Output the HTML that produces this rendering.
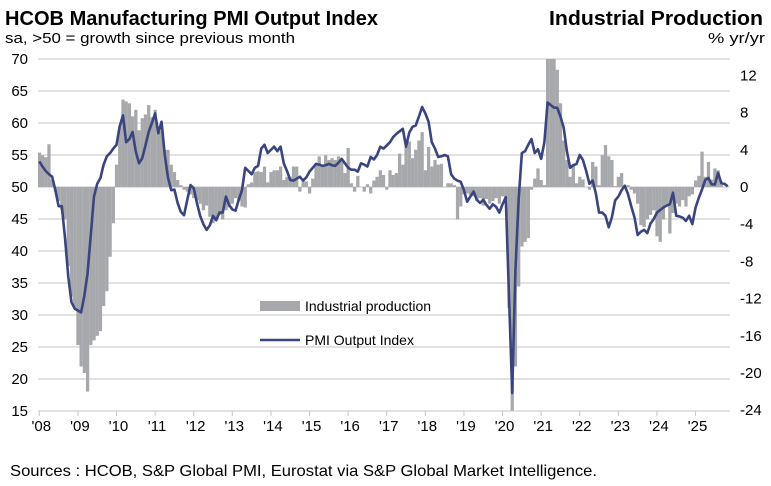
<!DOCTYPE html>
<html><head><meta charset="utf-8"><style>
body{margin:0;background:#fff;}
svg text{font-family:"Liberation Sans",Arial,sans-serif;}
</style></head><body>
<svg id="chart" width="771" height="481" viewBox="0 0 771 481" xmlns="http://www.w3.org/2000/svg">
<text x="5" y="25" font-size="20" font-weight="bold" fill="#000" textLength="373" lengthAdjust="spacingAndGlyphs">HCOB Manufacturing PMI Output Index</text>
<text x="5" y="43" font-size="15" fill="#000" textLength="290" lengthAdjust="spacingAndGlyphs">sa, &gt;50 = growth since previous month</text>
<text x="549" y="25" font-size="20" font-weight="bold" fill="#000" textLength="214" lengthAdjust="spacingAndGlyphs">Industrial Production</text>
<text x="708" y="43" font-size="15" fill="#000" textLength="57" lengthAdjust="spacingAndGlyphs">% yr/yr</text>
<text x="10" y="476" font-size="16" fill="#000" textLength="587" lengthAdjust="spacingAndGlyphs">Sources : HCOB, S&amp;P Global PMI, Eurostat via S&amp;P Global Market Intelligence.</text>
<defs><clipPath id="pc"><rect x="38" y="59" width="693" height="352"/></clipPath></defs>
<g id="grid"></g>
<g id="bars" clip-path="url(#pc)"></g>
<g id="axes"></g>
<g id="line"></g>
<g>
<rect x="260" y="301" width="40" height="10" fill="#a6a8ab"/>
<text x="305" y="311" font-size="14" fill="#000">Industrial production</text>
<line x1="260" y1="340" x2="300" y2="340" stroke="#3a4580" stroke-width="2.5"/>
<text x="305" y="345" font-size="14" fill="#000">PMI Output Index</text>
</g>
</svg>
<script>
const pmiValues=[
54,53.2,52.5,52,51.6,49.5,47,47,42,36,32,31,
30.7,30.4,33,36.5,42.5,48.5,50.5,51.4,53.5,54.8,55.3,56,
56.6,59.5,61.2,57,57.5,58.6,55.5,53.7,54.5,56.5,58.6,60,
61.5,58.4,60.2,55,51.5,49.5,49.6,47.5,46.1,45.6,48,50.3,
49.8,47.5,45.5,44.2,43.3,44,45.5,44.8,46,46,48.5,47.2,
46.5,46.3,48,49.5,53,52.5,52,53,53.3,56,56.6,55.3,
55.8,56.3,55.6,56.3,53.7,52.5,51.1,51,51.3,51.6,51,51.5,
52.4,53,53.6,53.5,53.3,53.4,53.6,53.4,53.3,53.8,54.4,53.7,
53,52.7,52.7,52.4,53.7,53.5,53.2,54.7,54.3,55,56.3,56,
56.5,57,57.8,58.3,58.7,59.1,56.3,58.5,59.4,59.6,61,62.5,
61.5,60.2,57,56,54.7,54.8,55,54.8,52,51.3,51,50.8,
49.5,47.7,48.5,49.3,48,47.5,48,47.2,46.6,47.3,46.9,46,
47.3,48.4,33,17.8,37,48,55.3,55.6,56.6,57.5,55.3,55.9,
54.4,57,63.2,62.8,62.4,62.4,61,59.3,55.6,53,53.4,53.6,
55,54.2,52.5,50.5,51,49,46,46,45.5,43.7,45.3,47.9,
48.5,49.5,50.2,48.9,47,45.3,42.5,43,43.3,42.8,44.3,45,
46,46.4,46.8,47.1,47.3,49.1,45.5,45.4,45.2,44.7,45.5,44.2,
46.8,48.3,49.6,51.1,51.4,50.4,50.4,52.2,50.6,50.5,50.1];
const ipValues=[
3.7,3.4,3.2,4.6,0.8,-0.5,-1.5,-2.5,-3.5,-8.5,-11.8,-13,
-17,-19.3,-20,-22,-17,-16.5,-16,-15.5,-12.8,-11.2,-7.5,-3.9,
2.4,6.5,9.4,9.2,9,7.6,8.3,6.1,7.4,7.8,8.8,7.5,
8.3,5.8,6,4,4,2.4,1.6,0.75,0.2,-0.3,-0.5,-0.8,
-1.2,-1.4,-1.8,-2.5,-2,-3.2,-3.9,-3.5,-3,-3.5,-2.5,-2.2,
-1.8,-1.2,-1.5,-2.1,-2.2,0.3,0.5,1.6,1.7,1.6,2.2,0.5,
1.6,1.8,1.8,2.2,0.75,1.1,1.1,2.2,2.2,-0.5,0.6,0.6,
-0.7,0.9,2.4,3.3,2.2,3.4,2.9,3.1,2.9,3.3,2.9,1.5,
4.2,0.4,-0.5,1.2,0,-0.5,0.3,-0.7,0.7,1.1,1.8,1.3,
-0.3,1.8,1.3,1.5,3.6,2.4,4.3,4.9,3.1,4,5,5.9,
1.8,4.3,2.2,2.9,2.4,2.5,0,0.4,0.4,0.2,-3.5,-2.1,
-0.8,-0.7,-0.9,-1,-1.5,-1.2,-2,-1.3,-1.8,-1.5,-1.2,-1.8,
-1,-1.3,-13,-24.5,-19.3,-10.7,-6.4,-5.9,-5.5,-0.3,0.9,2,
0.75,0.2,14,14,14,12.6,9,5,2.9,1.1,2.5,0.4,
1.1,0.8,0,-0.3,2.7,2.2,0.2,3.4,4.5,3.3,2.9,0.1,
1.1,1.5,0,0.2,-0.3,-0.7,-1.8,-4.1,-4.3,-3.5,-3,-2.5,
-5.3,-5.9,-3.5,-1.9,-5,-2.8,-1.8,-2.1,-1.4,-2.1,-1,-0.8,
0.7,1.2,3.8,1.1,2.7,0.8,2,1.8,0.6];
const leftTicks=[15,20,25,30,35,40,45,50,55,60,65,70];
const rightTicks=[-24,-20,-16,-12,-8,-4,0,4,8,12];
const yearLabels=["'08","'09","'10","'11","'12","'13","'14","'15","'16","'17","'18","'19","'20","'21","'22","'23","'24","'25"];

const NS="http://www.w3.org/2000/svg";
const X0=39.3, MSTEP=3.217;
function xPos(m){return X0+m*MSTEP;}
function yLeft(v){return 59+(70-v)*6.4;}
function yRight(v){return 187-v*9.3;}
function mk(tag,attrs,parent){const e=document.createElementNS(NS,tag);for(const k in attrs)e.setAttribute(k,attrs[k]);parent.appendChild(e);return e;}

const grid=document.getElementById('grid');
const axes=document.getElementById('axes');
leftTicks.forEach(v=>{
  const y=yLeft(v);
  if(v>15){const l=mk('line',{x1:38,x2:730,y1:y,y2:y,stroke:'#c6c6c6','stroke-width':1},grid);
  
  }
  const t=mk('text',{x:28,y:y+5,'font-size':15,'text-anchor':'end',fill:'#000'},axes);
  t.textContent=v;
  
  
});
rightTicks.forEach(v=>{
  const t=mk('text',{x:740,y:yRight(v)+5,'font-size':15,fill:'#000'},axes);
  t.textContent=v;
  
  
});
const base=mk('line',{x1:38,x2:730,y1:411,y2:411,stroke:'#c6c6c6','stroke-width':1},axes);


yearLabels.forEach((lab,i)=>{
  const x=xPos(i*12);
  const tk=mk('line',{x1:x,x2:x,y1:411,y2:416,stroke:'#c6c6c6'},axes);
  
  
  const t=mk('text',{x:x+2,y:431,'font-size':15,'text-anchor':'middle',fill:'#000'},axes);
  t.textContent=lab;
  
  
});
const bars=document.getElementById('bars');
const y0=yRight(0);
ipValues.forEach((v,m)=>{
  const y=yRight(v);
  const r=mk('rect',{x:xPos(m)-1.6,y:Math.min(y,y0),width:MSTEP+0.05,height:Math.abs(y-y0),fill:'#a6a8ab'},bars);
  
  
});
const pts=pmiValues.map((v,m)=>xPos(m).toFixed(2)+','+yLeft(v).toFixed(2)).join(' ');
const pl=mk('polyline',{points:pts,fill:'none',stroke:'#3a4580','stroke-width':2.6,'stroke-linejoin':'round'},document.getElementById('line'));


</script>
</body></html>
